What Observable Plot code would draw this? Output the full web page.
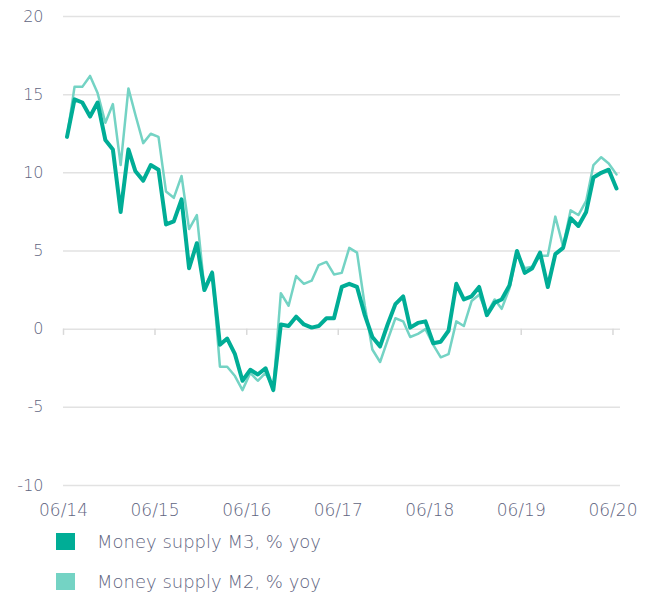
<!DOCTYPE html>
<html>
<head>
<meta charset="utf-8">
<script src="https://cdn.jsdelivr.net/npm/d3@7"></script>
<script src="https://cdn.jsdelivr.net/npm/@observablehq/plot@0.6"></script>
<style>
  html, body { margin: 0; padding: 0; background: #fff; }
  #chart svg { display: block; }
  .legend { padding-left: 56px; font-family: "DejaVu Sans", sans-serif; font-weight: 300; font-size: 18px; color: #5f6581; }
  .legend .row { height: 40px; display: flex; align-items: center; }
  .legend .sw { width: 19px; height: 17px; margin-right: 22px; }
</style>
</head>
<body>
<div id="chart"></div>
<div class="legend" id="legend"></div>
<script>
// Monthly observations, 06/2014 .. 06/2020
const startYear = 2014, startMonth = 6;
const m3 = [
  12.3, 14.7, 14.5, 13.6, 14.5, 12.1, 11.5, 7.5, 11.5, 10.1, 9.5, 10.5, 10.2,
  6.7, 6.9, 8.3, 3.9, 5.5, 2.5, 3.6, -1.0, -0.6, -1.6, -3.3, -2.6,
  -2.9, -2.5, -3.9, 0.3, 0.2, 0.8, 0.3, 0.1, 0.2, 0.7, 0.7, 2.7,
  2.9, 2.7, 0.9, -0.5, -1.1, 0.3, 1.6, 2.1, 0.1, 0.4, 0.5, -0.9,
  -0.8, -0.1, 2.9, 1.9, 2.1, 2.7, 0.9, 1.7, 1.9, 2.8, 5.0, 3.6,
  3.9, 4.9, 2.7, 4.8, 5.2, 7.1, 6.6, 7.5, 9.7, 10.0, 10.2, 9.0
];
const m2 = [
  12.3, 15.5, 15.5, 16.2, 15.1, 13.2, 14.4, 10.5, 15.4, 13.7, 11.9, 12.5, 12.3,
  8.8, 8.4, 9.8, 6.4, 7.3, 2.6, 3.7, -2.4, -2.4, -3.0, -3.9, -2.8,
  -3.3, -2.8, -3.8, 2.3, 1.5, 3.4, 2.9, 3.1, 4.1, 4.3, 3.5, 3.6,
  5.2, 4.9, 1.5, -1.3, -2.1, -0.7, 0.7, 0.5, -0.5, -0.3, 0.0, -1.0,
  -1.8, -1.6, 0.5, 0.2, 1.8, 2.2, 1.0, 1.9, 1.3, 2.6, 4.9, 3.9,
  4.0, 4.7, 4.7, 7.2, 5.3, 7.6, 7.3, 8.2, 10.5, 11.0, 10.6, 9.9
];
const seriesNames = ["Money supply M3, % yoy", "Money supply M2, % yoy"];
const seriesColors = ["#00ad96", "#74d3c4"];
const yTicks = [-10, -5, 0, 5, 10, 15, 20];
const xTickLabels = ["06/14", "06/15", "06/16", "06/17", "06/18", "06/19", "06/20"];

const dateOf = i => new Date(Date.UTC(startYear, startMonth - 1 + i, 15));
const toRows = arr => arr.map((v, i) => ({date: dateOf(i), value: v}));
const m3Rows = toRows(m3), m2Rows = toRows(m2);
const xTickDates = xTickLabels.map(s => {
  const [mm, yy] = s.split("/").map(Number);
  return new Date(Date.UTC(2000 + yy, mm - 1, 1));
});
const labelOf = d => xTickLabels[xTickDates.findIndex(t => +t === +d)];

const font = "'DejaVu Sans', sans-serif";
const plot = Plot.plot({
  width: 657,
  height: 521,
  marginLeft: 63,
  marginRight: 37,
  marginTop: 16,
  marginBottom: 36,
  x: {type: "utc", domain: [new Date(Date.UTC(2014, 5, 1)), new Date(Date.UTC(2020, 6, 1))]},
  y: {domain: [-10, 20]},
  style: {fontFamily: font, fontSize: "16px", color: "#5f6581", fontWeight: 300, background: "#fff"},
  marks: [
    Plot.ruleY(yTicks, {stroke: "#e2e2e2", strokeWidth: 1.5}),
    Plot.ruleX(xTickDates, {y1: 0, y2: -0.4, stroke: "#d9d9d9", strokeWidth: 1.5}),
    Plot.axisY(yTicks, {tickSize: 0, tickPadding: 20, label: null, fill: "#5f6581", tickFormat: d => String(d)}),
    Plot.axisX(xTickDates, {tickSize: 0, tickPadding: 18, label: null, tickFormat: labelOf, fill: "#5f6581", fontSize: 17}),
    Plot.line(m2Rows, {x: "date", y: "value", stroke: seriesColors[1], strokeWidth: 2.5}),
    Plot.line(m3Rows, {x: "date", y: "value", stroke: seriesColors[0], strokeWidth: 4})
  ]
});
document.getElementById("chart").appendChild(plot);

const legend = document.getElementById("legend");
seriesNames.forEach((name, i) => {
  const row = document.createElement("div");
  row.className = "row";
  const sw = document.createElement("span");
  sw.className = "sw";
  sw.style.background = seriesColors[i];
  const t = document.createElement("span");
  t.textContent = name;
  row.appendChild(sw);
  row.appendChild(t);
  legend.appendChild(row);
});
</script>
</body>
</html>
